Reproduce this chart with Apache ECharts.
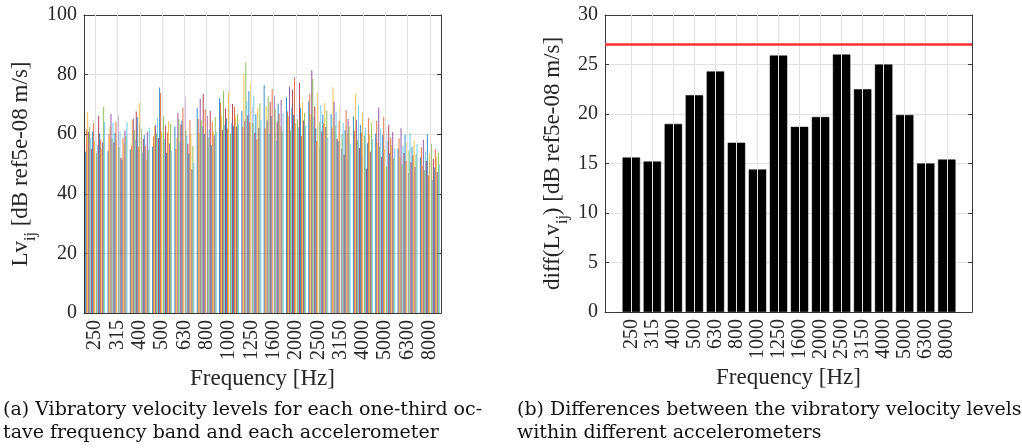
<!DOCTYPE html>
<html><head><meta charset="utf-8">
<script src="https://cdn.jsdelivr.net/npm/echarts@6/dist/echarts.min.js"></script>
<style>html,body{margin:0;padding:0;background:#fff}#c{width:1022px;height:448px}</style>
</head><body><div id="c"></div>
<script>
// ---- data ----
const freqLabels = ['250','315','400','500','630','800','1000','1250','1600','2000','2500','3150','4000','5000','6300','8000'];
// vibratory velocity level of each accelerometer, per one-third octave band [dB]
const b250  = [54.1,61.5,67.3,60.8,62.4,58.9,55.2,61.0,63.8,57.6,59.5,53.6,56.4,66.1,60.2,58.1,55.0,57.3,69.2,64.0];
const b315  = [54.3,60.1,62.5,66.8,58.6,63.9,57.2,60.4,64.2,57.8,66.3,55.6,60.9,52.1,51.5,58.8,56.7,61.2,59.4,64.1];
const b400  = [54.9,56.2,64.8,65.3,61.4,58.0,67.6,65.7,55.9,70.4,63.6,61.8,53.9,58.4,59.7,56.1,51.4,60.8,54.6,62.2];
const b500  = [55.8,59.3,62.7,63.1,60.2,65.4,58.7,75.7,73.8,61.0,57.2,66.0,58.5,62.9,53.7,60.6,64.4,56.9,63.4,54.5];
const b630  = [62.6,55.0,58.8,67.1,65.0,57.3,63.2,64.5,69.0,58.2,72.6,61.3,59.4,56.8,53.5,64.8,60.0,48.2,56.1,50.4];
const b800  = [69.0,65.1,60.4,71.9,64.7,62.5,73.5,60.1,68.4,63.0,66.2,58.9,61.7,67.9,56.4,64.2,61.0,59.6,65.8,60.8];
const b1000 = [72.1,70.5,66.0,61.4,74.6,63.2,68.7,65.3,61.8,74.2,67.5,60.2,63.9,70.1,62.7,69.3,65.9,62.5,66.8,63.4];
const b1250 = [67.8,62.4,80.3,64.5,84.2,71.0,66.3,74.5,64.0,77.1,69.2,63.7,72.8,60.5,66.7,58.2,68.9,62.1,70.4,64.8];
const b1600 = [76.5,62.0,69.5,64.7,72.7,60.1,70.8,66.1,75.2,61.8,73.0,68.4,57.8,64.3,70.3,66.9,62.6,71.5,60.9,67.2];
const b2000 = [72.4,67.6,65.9,76.0,61.2,69.0,74.8,66.5,79.1,63.7,71.4,65.0,62.3,77.3,68.8,59.4,70.9,64.6,67.2,62.8];
const b2500 = [71.0,73.5,66.8,81.5,78.6,65.9,69.4,62.0,57.7,73.8,55.5,64.2,69.8,60.9,66.6,63.7,70.5,62.4,67.9,58.8];
const b3150 = [66.8,62.3,75.7,70.9,63.0,67.6,58.5,57.6,64.5,69.5,55.2,60.1,63.8,53.2,61.4,68.0,59.9,65.1,62.7,56.8];
const b4000 = [66.0,61.2,73.5,64.8,58.0,69.7,55.4,63.1,60.5,67.2,52.8,59.6,62.2,48.5,57.0,65.5,60.0,54.1,63.7,58.4];
const b5000 = [60.2,64.5,57.1,69.0,55.8,62.0,52.4,59.7,65.8,54.9,61.3,49.1,57.8,63.2,53.6,58.9,56.4,60.7,51.8,55.2];
const b6300 = [55.2,58.6,52.4,62.0,49.8,56.1,53.7,59.9,51.0,57.3,47.0,54.5,60.4,50.6,55.8,52.9,58.0,49.1,53.3,56.7];
const b8000 = [52.3,55.6,49.4,58.1,47.9,54.2,51.0,60.0,46.2,53.5,50.3,56.8,44.6,51.7,48.8,55.0,52.6,47.3,53.9,49.9];
const bands = [b250,b315,b400,b500,b630,b800,b1000,b1250,b1600,b2000,b2500,b3150,b4000,b5000,b6300,b8000];
// differences between accelerometers per band [dB]
const diffValues = [15.6,15.2,19.0,21.9,24.3,17.1,14.4,25.9,18.7,19.7,26.0,22.5,25.0,19.9,15.0,15.4];
const diffLimit = 27;

// ---- styling ----
const FONT = 'Liberation Serif';
const AX = '#3a3a3a';
const GRID = '#e2e2e2';
const TXT = '#262626';
const palette = ['#0072BD','#D95319','#EDB120','#7E2F8E','#77AC30','#4DBEEE','#A2142F'];
const catPos = freqLabels.map((_, i) => i + 1);

const chart = echarts.init(document.getElementById('c'), null, {renderer: 'canvas'});

const xName = {name:'Frequency [Hz]', nameLocation:'middle', nameGap:54,
  nameTextStyle:{fontFamily:FONT, fontSize:23, color:TXT}};
const xLabel = {rotate:90, margin:7, fontFamily:FONT, fontSize:20, color:TXT};

// left chart: category axis (grouped bars)
const leftX = [
  Object.assign({type:'category', gridIndex:0, data:freqLabels, position:'bottom', boundaryGap:true,
    axisLine:{show:true, onZero:false, lineStyle:{color:AX}},
    axisTick:{show:true, inside:true, length:4, alignWithLabel:true, lineStyle:{color:AX}},
    axisLabel:Object.assign({interval:0}, xLabel), splitLine:{show:false}}, xName),
  {type:'category', gridIndex:0, data:freqLabels, position:'top', boundaryGap:true,
    axisLine:{show:true, onZero:false, lineStyle:{color:AX}},
    axisTick:{show:true, inside:true, length:4, alignWithLabel:true, lineStyle:{color:AX}},
    axisLabel:{show:false}, splitLine:{show:false}}
];
// right chart: value axis so that the limits can match
const rightX = [
  Object.assign({type:'value', gridIndex:1, min:-0.25, max:17.2, position:'bottom',
    axisLine:{show:true, onZero:false, lineStyle:{color:AX}},
    axisTick:{show:true, inside:true, length:4, customValues:catPos, lineStyle:{color:AX}},
    axisLabel:Object.assign({customValues:catPos, formatter: v => freqLabels[Math.round(v) - 1] || ''}, xLabel),
    splitLine:{show:false}}, xName),
  {type:'value', gridIndex:1, min:-0.25, max:17.2, position:'top',
    axisLine:{show:true, onZero:false, lineStyle:{color:AX}},
    axisTick:{show:true, inside:true, length:4, customValues:catPos, lineStyle:{color:AX}},
    axisLabel:{show:false}, splitLine:{show:false}}
];

function yAxisPair(gridIndex, max, interval, nameRich, nameGap) {
  return [
    {type:'value', gridIndex, min:0, max, interval, position:'left',
     axisLine:{show:true, onZero:false, lineStyle:{color:AX}},
     axisTick:{show:true, inside:true, length:4, lineStyle:{color:AX}},
     axisLabel:{fontFamily:FONT, fontSize:20, color:TXT, margin:7},
     splitLine:{show:true, lineStyle:{color:GRID, width:1}},
     name:nameRich, nameLocation:'middle', nameRotate:90, nameGap,
     nameTextStyle:{fontFamily:FONT, fontSize:23, color:TXT,
       rich:{n:{fontFamily:FONT, fontSize:23, color:TXT, lineHeight:30, verticalAlign:'top'},
             s:{fontFamily:FONT, fontSize:16, color:TXT, lineHeight:17, verticalAlign:'bottom'}}}},
    {type:'value', gridIndex, min:0, max, interval, position:'right',
     axisLine:{show:true, onZero:false, lineStyle:{color:AX}},
     axisTick:{show:true, inside:true, length:4, lineStyle:{color:AX}},
     axisLabel:{show:false}, splitLine:{show:false}}
  ];
}
const leftY = yAxisPair(0, 100, 20, '{n|Lv}{s|ij}{n| [dB ref5e-08 m/s]}', 45);
const rightY = yAxisPair(1, 30, 5, '{n|diff(Lv}{s|ij}{n|) [dB ref5e-08 m/s]}', 34);

const nAcc = bands[0].length;
const series = [];
// vertical grid lines at band centres
series.push({type:'line', xAxisIndex:0, yAxisIndex:0, data:[], silent:true, z:0,
  markLine:{silent:true, symbol:'none', label:{show:false}, lineStyle:{color:GRID, type:'solid', width:1},
    data: freqLabels.map(f => ({xAxis:f}))}});
series.push({type:'line', xAxisIndex:2, yAxisIndex:2, data:[], silent:true, z:0,
  markLine:{silent:true, symbol:'none', label:{show:false}, lineStyle:{color:GRID, type:'solid', width:1},
    data: catPos.map(x => ({xAxis:x}))}});
for (let k = 0; k < nAcc; k++) {
  series.push({
    type:'bar', name:'acc' + (k+1), xAxisIndex:0, yAxisIndex:0,
    data: bands.map(b => b[k]),
    itemStyle:{color: palette[k % palette.length], opacity:0.8},
    barGap:'0%', barCategoryGap:'14%', silent:true, animation:false, z:2
  });
}
series.push({
  type:'bar', xAxisIndex:2, yAxisIndex:2,
  data: diffValues.map((v, i) => [i + 1, v]),
  itemStyle:{color:'#000', borderColor:'#000', borderWidth:0.5},
  barCategoryGap:'17%', silent:true, animation:false, z:2,
  markLine:{silent:true, symbol:'none', label:{show:false},
    lineStyle:{color:'#ff3030', width:2.5, type:'solid'}, data:[{yAxis:diffLimit}]}
});

chart.setOption({
  animation:false,
  backgroundColor:'#fff',
  grid:[
    {left:84, top:15, width:357, height:298, show:false},
    {left:605, top:15, width:367, height:297, show:false}
  ],
  xAxis:[...leftX, ...rightX],
  yAxis:[...leftY, ...rightY],
  series,
  graphic:[
    {type:'text', left:3, top:399, style:{text:'(a) Vibratory velocity levels for each one-third oc-\ntave frequency band and each accelerometer',
      font:'19px "DejaVu Serif"', fill:'#111', lineHeight:23}},
    {type:'text', left:517, top:399, style:{text:'(b) Differences between the vibratory velocity levels\nwithin different accelerometers',
      font:'19px "DejaVu Serif"', fill:'#111', lineHeight:23}}
  ]
});
</script></body></html>
